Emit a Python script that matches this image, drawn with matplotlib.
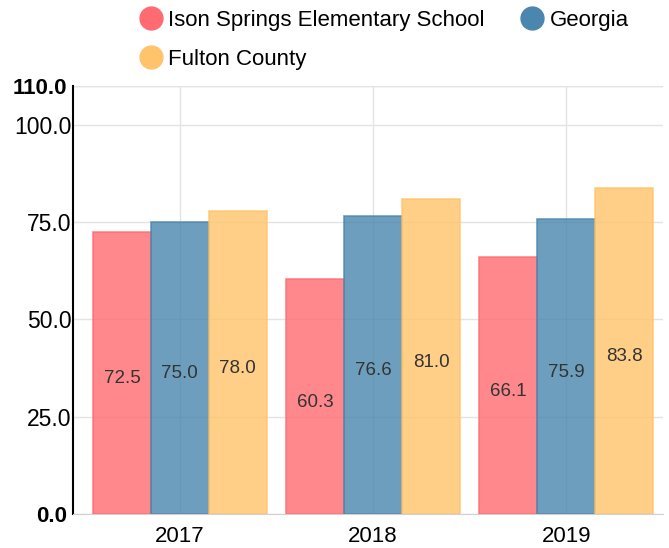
import numpy as np
import matplotlib.pyplot as plt
from matplotlib.lines import Line2D
from matplotlib.transforms import ScaledTranslation

plt.rcParams['font.family'] = ['Liberation Sans', 'DejaVu Sans']

# dữ liệu
years = ["2017", "2018", "2019"]
series_names = ["Ison Springs Elementary School", "Georgia", "Fulton County"]
school = [72.5, 60.3, 66.1]
georgia = [75.0, 76.6, 75.9]
fulton = [78.0, 81.0, 83.8]
colors = ["#FF6B70", "#4A86AD", "#FFC46B"]
yticks = [0, 25, 50, 75, 100, 110]

fig = plt.figure(figsize=(6.69, 5.48), dpi=100)
ax = fig.add_axes([73 / 669, 1 - 514 / 548, 590 / 669, 428 / 548])

x = np.arange(len(years))
w = 0.3
for i, (vals, c) in enumerate(zip([school, georgia, fulton], colors)):
    pos = x + (i - 1) * w
    ax.bar(pos, vals, width=w, color=c, alpha=0.8, edgecolor=c, linewidth=1.2, zorder=2)
    for px, v in zip(pos, vals):
        ax.text(px, v / 2 - 1.5, f"{v:.1f}", ha="center", va="center",
                fontsize=13.5, color="#333333", zorder=3)

ax.set_xlim(-0.553, 2.5)
ax.set_ylim(0, 110)
ax.set_xticks(x)
ax.set_xticklabels(years, fontsize=16)
ax.set_yticks(yticks)
ax.set_yticklabels([f"{t:.1f}" for t in yticks], fontsize=16.5)
ax.tick_params(length=0, pad=1)
ax.tick_params(axis="x", pad=9)
# min/max nhãn in đậm, lệch trái một chút
shift = ScaledTranslation(-4 / 100, 0, fig.dpi_scale_trans)
for lab in ax.get_yticklabels():
    if lab.get_text() in ("0.0", "110.0"):
        lab.set_fontweight("bold")
        lab.set_fontsize(16)
        lab.set_transform(lab.get_transform() + shift)
ax.grid(True, color="#E3E3E3", linewidth=1, zorder=0)
ax.set_axisbelow(True)
ax.spines["top"].set_visible(False)
ax.spines["right"].set_visible(False)
ax.spines["left"].set_color("black")
ax.spines["left"].set_linewidth(1.5)
ax.spines["bottom"].set_color("#D0D0D0")
ax.axhline(110, color="#E3E3E3", linewidth=1, zorder=0)

handles = [Line2D([], [], marker="o", linestyle="", markersize=16.5, color=c) for c in colors]
order = [0, 2, 1]
fig.legend([handles[i] for i in order], [series_names[i] for i in order],
           ncol=2, loc="upper left", bbox_to_anchor=(140 / 669, 1 - 10 / 548),
           frameon=False, fontsize=16, handlelength=1.0, handletextpad=0.28,
           columnspacing=1.63, labelspacing=0.82, borderpad=0, borderaxespad=0)

fig.savefig("out.png", dpi=100)
